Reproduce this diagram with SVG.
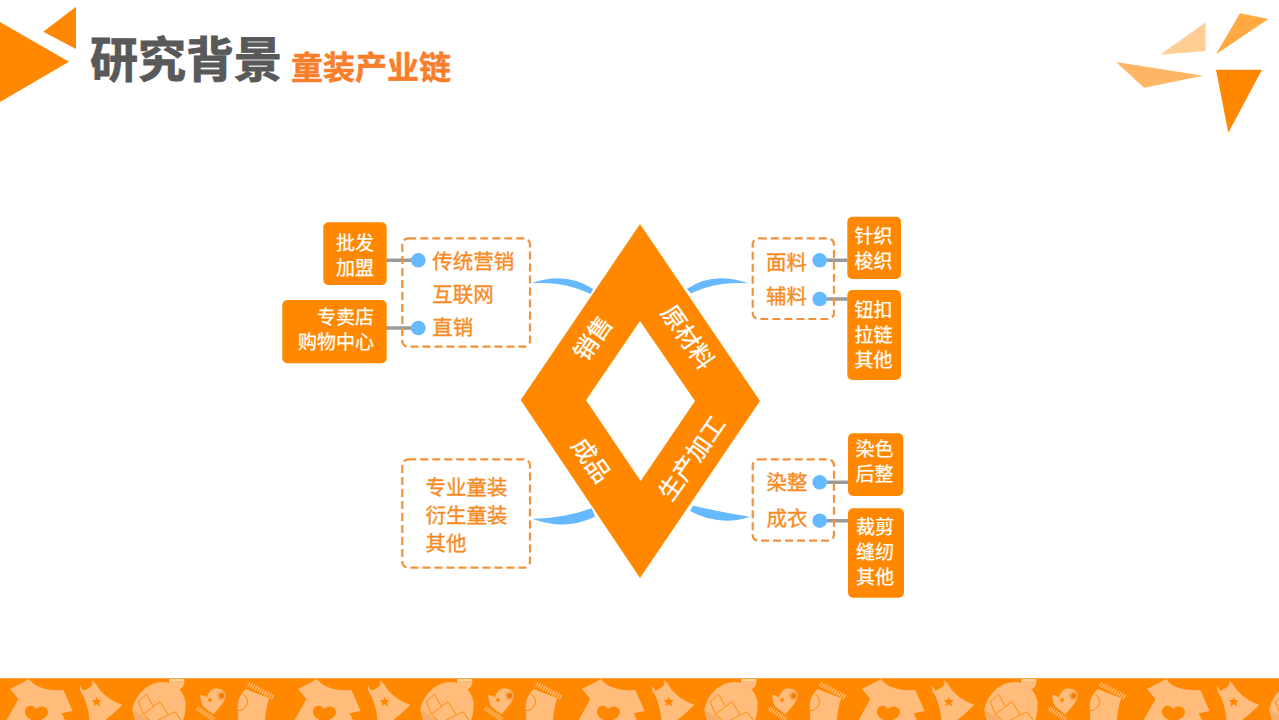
<svg xmlns="http://www.w3.org/2000/svg" width="1279" height="720" viewBox="0 0 1279 720">
<style>
text{font-family:"Noto Sans CJK SC","Noto Sans",sans-serif}
.o{fill:#FF8800}
.box{fill:#FF8800}
.w{fill:#fff;stroke:#fff;stroke-width:.25;font-size:19px;text-anchor:middle}
.wr{fill:#fff;stroke:#fff;stroke-width:.25;font-size:19px;text-anchor:end}
.t{fill:#F78B1F;stroke:#F78B1F;stroke-width:.35;font-size:20.5px}
.d{fill:#fff;stroke:#fff;stroke-width:.3;font-size:24px;text-anchor:middle}
.dash{fill:none;stroke:#F2923A;stroke-width:2.2;stroke-dasharray:8 4}
.dot{fill:#66B8FF}
.gray{stroke:#9A9A9A;stroke-width:3.5;fill:none}
.sw{fill:#66B8FF}
.lt{fill:#FFBC7A}
</style>
<defs>
<clipPath id="band"><rect x="0" y="678" width="1279" height="42"/></clipPath>
<g id="tile">
<path class="lt" d="M88 27Q112 64 190 60L218 123L185 130L195 150H20L55 87L30 57Z"/>
<path class="o" d="M108 118C95 98 73 110 75 128C77 140 90 148 100 152H118C130 148 145 138 144 125C143 110 120 102 108 118Z"/>
<path class="lt" d="M240 60L240 47L250 62Q266 58 278 43L275 30L286 40Q310 85 367 105L338 132L316 150H268Q266 102 240 60Z"/>
<path class="o" d="M290 80L294 90L305 90L297 98L300 109L290 103L280 109L283 98L275 90L286 90Z"/>
<circle class="lt" cx="530" cy="37" r="23"/>
<path d="M509 24H553V33H509Z" fill="#FFD2A3"/>
<path class="lt" d="M397 120C405 72 445 36 490 36C530 36 557 72 557 105Q557 130 550 150H405Z"/>
<path d="M415 95L440 73L460 110L430 133ZM460 110L480 95L505 135L475 150M505 135L525 125L543 150M430 133L450 150" fill="none" stroke="#FF8800" stroke-width="2.8"/>
<path d="M397 120L450 150H405Z" fill="#F5AE6A"/>
<path class="lt" d="M600 75Q612 75 620 82Q630 55 650 55Q680 58 677 82Q672 100 640 133L608 108Q602 90 600 75Z"/>
<circle class="o" cx="630" cy="90" r="6"/>
<circle cx="665" cy="77" r="8" fill="#F47A00"/>
<circle cx="665" cy="77" r="12" fill="none" stroke="#F47A00" stroke-width="4" stroke-dasharray="2 3"/>
<path d="M592 115L645 150" stroke="#FFBC7A" stroke-width="14" stroke-dasharray="3.5 3.5" fill="none"/>
<path class="lt" d="M737 57L808 85Q798 110 795 150H715L713 105Q714 80 737 57Z"/>
<path d="M745 42L820 82" stroke="#FFBC7A" stroke-width="15" stroke-dasharray="4 4" fill="none"/>
<path d="M730 73Q752 92 738 108Q730 122 713 122" fill="none" stroke="#FF8800" stroke-width="3"/>
</g>
</defs>
<g id="header">
<polygon class="o" points="0,22 69,61.7 0,102"/>
<polygon class="o" points="76,6.7 43.3,31.7 76,49"/>
<text x="90" y="77" font-size="48" font-weight="700" fill="#595959" stroke="#595959" stroke-width=".9">研究背景</text>
<text x="291" y="79" font-size="32" font-weight="700" fill="#F97E2C" stroke="#F97E2C" stroke-width=".5">童装产业链</text>
</g>
<g id="corner-decoration">
<polygon points="1205.7,22.3 1160,54.7 1205.7,51" fill="#FFCE94"/>
<polygon points="1240,13.3 1268.3,19 1216,54.3" fill="#FFA940"/>
<polygon points="1116,62 1203.3,75.7 1144,87.7" fill="#FFB566"/>
<polygon points="1216,69.7 1262,69.7 1228.3,132.7" fill="#FF8800"/>
</g>
<g id="connectors">
<path class="sw" d="M531.7 283.3Q565 271 593.3 289L590.5 294L586 292Q562 281 531.7 283.3Z"/>
<path class="sw" d="M748.3 283.3Q713 271 686.7 289L691.5 293.5L694 292Q718 281 748.3 283.3Z"/>
<path class="sw" d="M750 516.7Q725 513 693.3 505.7L690 511Q720 527 750 516.7Z"/>
<path class="sw" d="M532.7 519Q565 518 591.7 508.3L595 516.7Q565 531 532.7 519Z"/>
<path class="gray" d="M385 260.3H412M385 328H412M827 260.3H847.5M827 299H847.5M827 482.3H848M827 520.7H848"/>
</g>
<g id="diamond">
<path class="o" fill-rule="evenodd" d="M640 224L760 401L640 578L520.7 400ZM640 321L586 400.3L640.7 481L695 401Z"/>
<text class="d" transform="translate(592.7 338) rotate(-55)" y="9">销售</text>
<text class="d" transform="translate(688 337) rotate(55)" y="9">原材料</text>
<text class="d" transform="translate(591.7 460) rotate(55)" y="9">成品</text>
<text class="d" transform="translate(691.7 458) rotate(-55)" y="9">生产加工</text>
</g>
<g id="node-sales">
<rect class="dash" x="402.3" y="238.3" width="127.7" height="108.4" rx="6"/>
<circle class="dot" cx="418.3" cy="260.3" r="7.3"/>
<circle class="dot" cx="418.3" cy="328" r="7.3"/>
<text class="t" y="269"><tspan x="432.3">传统营销</tspan><tspan x="432.3" dy="33">互联网</tspan><tspan x="432.3" dy="33">直销</tspan></text>
</g>
<g id="node-wholesale">
<rect class="box" x="323.3" y="222.3" width="63.4" height="62.7" rx="5"/>
<text class="wr" y="249.5"><tspan x="374">批发</tspan><tspan x="374" dy="25">加盟</tspan></text>
</g>
<g id="node-store">
<rect class="box" x="282.3" y="300" width="104.4" height="63.3" rx="5"/>
<text class="wr" y="324"><tspan x="374">专卖店</tspan><tspan x="374" dy="25">购物中心</tspan></text>
</g>
<g id="node-material">
<rect class="dash" x="752.7" y="238.3" width="81.3" height="80.7" rx="6"/>
<circle class="dot" cx="819.7" cy="260.3" r="7.3"/>
<circle class="dot" cx="819.7" cy="299" r="7.3"/>
<text class="t" y="270"><tspan x="766">面料</tspan><tspan x="766" dy="34">辅料</tspan></text>
</g>
<g id="node-fabric">
<rect class="box" x="847.3" y="216.7" width="53.7" height="62.3" rx="5"/>
<text class="w" y="242.5"><tspan x="873.5">针织</tspan><tspan x="873.5" dy="25">梭织</tspan></text>
</g>
<g id="node-accessory">
<rect class="box" x="847.3" y="290" width="53.7" height="90" rx="5"/>
<text class="w" y="317"><tspan x="873.5">钮扣</tspan><tspan x="873.5" dy="25">拉链</tspan><tspan x="873.5" dy="25">其他</tspan></text>
</g>
<g id="node-process">
<rect class="dash" x="752.7" y="459.3" width="81.3" height="81.4" rx="6"/>
<circle class="dot" cx="819.7" cy="482.3" r="7.3"/>
<circle class="dot" cx="819.7" cy="520.7" r="7.3"/>
<text class="t" y="490"><tspan x="766.5">染整</tspan><tspan x="766.5" dy="36">成衣</tspan></text>
</g>
<g id="node-dyeing">
<rect class="box" x="848" y="433.3" width="55.3" height="62.7" rx="5"/>
<text class="w" y="456"><tspan x="874.5">染色</tspan><tspan x="874.5" dy="25">后整</tspan></text>
</g>
<g id="node-cutting">
<rect class="box" x="848" y="508.3" width="56" height="89.4" rx="5"/>
<text class="w" y="534"><tspan x="875">裁剪</tspan><tspan x="875" dy="25">缝纫</tspan><tspan x="875" dy="25">其他</tspan></text>
</g>
<g id="node-finished">
<rect class="dash" x="402.3" y="459.3" width="127.7" height="108.4" rx="6"/>
<text class="t" y="495"><tspan x="425.5">专业童装</tspan><tspan x="425.5" dy="28">衍生童装</tspan><tspan x="425.5" dy="28">其他</tspan></text>
</g>
<g id="footer">
<rect x="0" y="678" width="1279" height="42" fill="#FF8800"/>
<g clip-path="url(#band)">
<use href="#tile" transform="translate(0 670) scale(.3333)"/>
<use href="#tile" transform="translate(288 670) scale(.3333)"/>
<use href="#tile" transform="translate(572 670) scale(.3333)"/>
<use href="#tile" transform="translate(852 670) scale(.3333)"/>
<use href="#tile" transform="translate(1137 670) scale(.3333)"/>
</g>
<rect x="0" y="678" width="1279" height="1" fill="#FFA040"/>
</g>
</svg>
